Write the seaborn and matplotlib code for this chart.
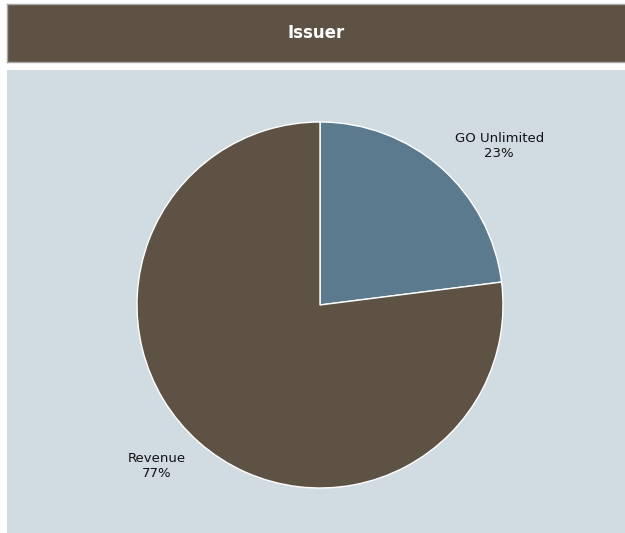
import matplotlib
matplotlib.use("Agg")
import matplotlib.pyplot as plt
import seaborn as sns
import numpy as np

categories = ["GO Unlimited", "Revenue"]
shares = [23, 77]
title = "Issuer"

sns.set_style("white")
plt.rcParams['font.family'] = ['DejaVu Sans']
colors = ["#5b7a8e", "#5e5245"]

W, H = 625, 533
fig = plt.figure(figsize=(W / 100, H / 100), dpi=100)
fig.patch.set_facecolor("white")

# header band
hx0, hy0, hx1, hy1 = 7, 4, 626, 62
hax = fig.add_axes([hx0 / W, 1 - hy1 / H, (hx1 - hx0) / W, (hy1 - hy0) / H])
hax.set_facecolor("#5e5245")
hax.set_xticks([]); hax.set_yticks([])
for s in hax.spines.values():
    s.set_color("#a8a8a8"); s.set_linewidth(1)
hax.text(0.5, 0.5, title, color="white", fontsize=12, fontweight="bold",
         ha="center", va="center", transform=hax.transAxes)

# panel
px0, py0, px1, py1 = 7, 70, 626, 534
pax = fig.add_axes([px0 / W, 1 - py1 / H, (px1 - px0) / W, (py1 - py0) / H])
pax.set_facecolor("#d0dce2")
pax.set_xticks([]); pax.set_yticks([])
for s in pax.spines.values():
    s.set_visible(False)

# pie
cx, cy, r = 320, 305, 183
ax = fig.add_axes([(cx - r) / W, 1 - (cy + r) / H, 2 * r / W, 2 * r / H])
ax.set_facecolor("none")
labels = [f"{c}\n{v}%" for c, v in zip(categories, shares)]
wedges, texts = ax.pie(shares, labels=labels, colors=colors, startangle=90,
                       counterclock=False, labeldistance=1.29,
                       wedgeprops=dict(edgecolor="white", linewidth=1),
                       textprops=dict(fontsize=9.5, color="#111111", ha="center",
                                      va="center", multialignment="center"))
# nudge label placement (angle offset in degrees, radial distance)
nudges = [(-7, 1.31), (-4, 1.25)]
for t, (da, dist) in zip(texts, nudges):
    x, y = t.get_position()
    ang = np.degrees(np.arctan2(y, x)) + da
    t.set_position((dist * np.cos(np.radians(ang)), dist * np.sin(np.radians(ang))))
ax.set_xlim(-1, 1); ax.set_ylim(-1, 1)
ax.set_aspect("equal")
ax.axis("off")

fig.savefig("out.png", dpi=100)
